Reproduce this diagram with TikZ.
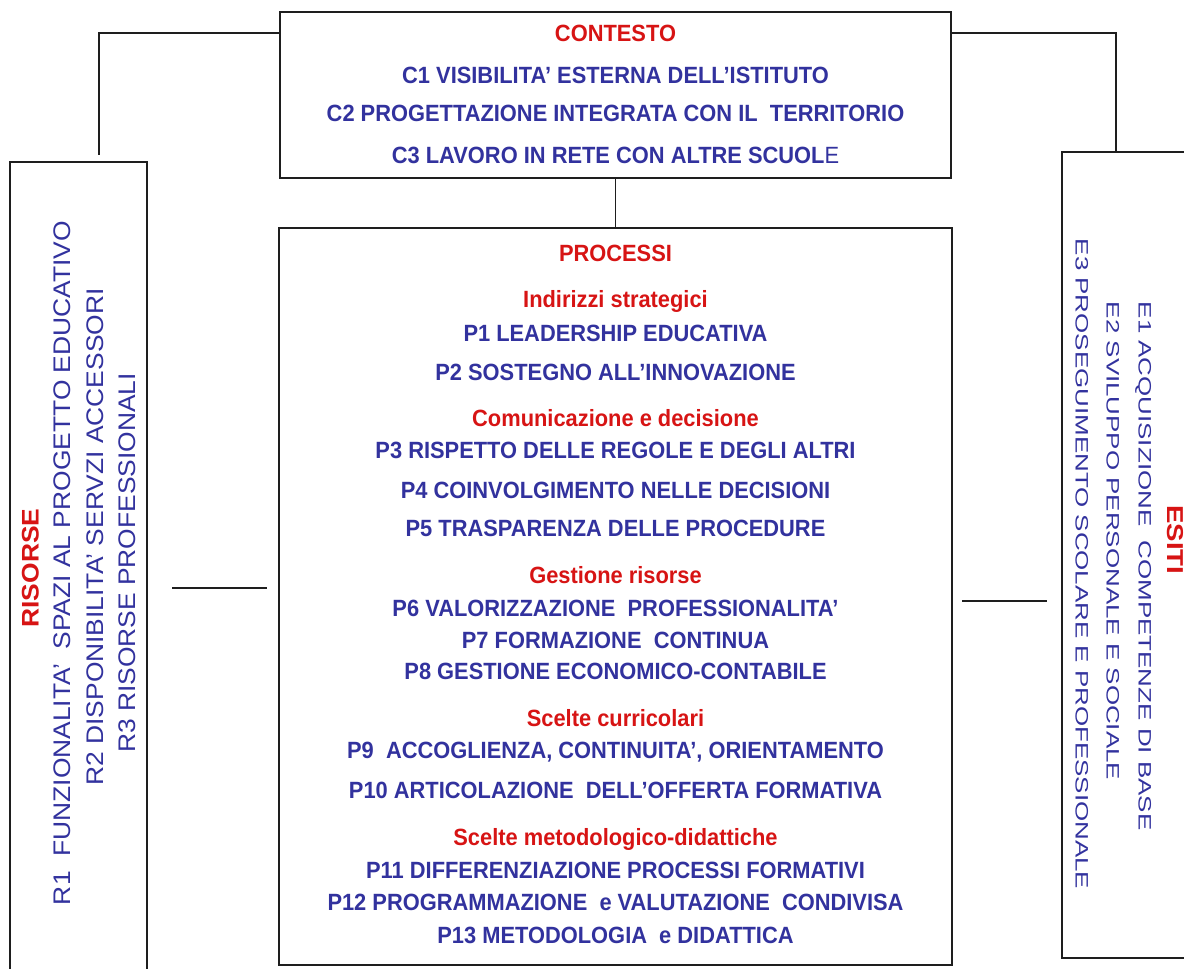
\documentclass[tikz,border=0pt]{standalone}
\usepackage{fontspec}
\setmainfont{Liberation Sans}
\newfontfamily\midfont[FakeStretch=0.93]{Liberation Sans}
\newfontfamily\leftfont[FakeStretch=1.1]{Liberation Sans}
\newfontfamily\rightfont[FakeStretch=1.44]{Liberation Sans}
\newfontfamily\esitifont[FakeStretch=1.2]{Liberation Sans}
\definecolor{tblue}{RGB}{50,50,158}
\definecolor{tred}{RGB}{215,20,20}
\definecolor{lineg}{RGB}{30,30,30}
\begin{document}
\begin{tikzpicture}[x=1pt,y=-1pt,
  box/.style={draw=lineg, line width=1.3pt, inner sep=0pt, outer sep=0pt, fill=white},
  conn/.style={draw=lineg, line width=1.3pt},
  ctext/.style={inner sep=0pt, font=\midfont\fontsize{23.5}{27}\selectfont\bfseries, text height=16.8pt, text depth=0pt, text=tblue},
  chead/.style={ctext, text=tred},
  ltext/.style={inner sep=0pt, rotate=90, font=\leftfont\fontsize{24}{28}\selectfont, text height=17.2pt, text depth=0pt, text=tblue},
  lhead/.style={ltext, font=\leftfont\fontsize{24}{28}\selectfont\bfseries, text=tred},
  rtext/.style={inner sep=0pt, rotate=-90, font=\rightfont\fontsize{18}{22}\selectfont, text height=12.9pt, text depth=0pt, text=tblue},
  rhead/.style={rtext, font=\esitifont\fontsize{23}{26}\selectfont\bfseries, text height=16.5pt, text=tred}
]
\useasboundingbox (0,0) rectangle (1184,969);
\fill[white] (0,0) rectangle (1184,969);
\clip (0,0) rectangle (1184,969);

% boxes
\node[box, minimum width=671pt, minimum height=166pt] (ctx) at (615.5,95) {};
\node[box, minimum width=673pt, minimum height=737pt] (proc) at (615.5,596.5) {};
\node[box, minimum width=137pt, minimum height=830pt] (res) at (78.5,577) {};
\node[box, minimum width=140pt, minimum height=806pt] (esi) at (1132,555) {};

% connectors
\coordinate (lc) at (99,155);
\coordinate (rc) at (1116,152);
\draw[conn] (ctx.west |- 0,33) -| (lc);
\draw[conn] (ctx.east |- 0,33) -| (rc);
\draw[conn] (ctx.south) -- (proc.north);
\coordinate (l1) at (172,588);
\coordinate (l2) at (267,588);
\coordinate (r1) at (962,601);
\coordinate (r2) at (1047,601);
\draw[conn] (l1) -- (l2);
\draw[conn] (r1) -- (r2);

% CONTESTO
\node[chead] (c0) at (615.5,33) {CONTESTO};
\node[ctext] (c1) at (615.5,75) {C1 VISIBILITA’ ESTERNA DELL’ISTITUTO};
\node[ctext] (c2) at (615.5,113) {C2 PROGETTAZIONE INTEGRATA CON IL~ TERRITORIO};
\node[ctext] (c3) at (615.5,155) {C3 LAVORO IN RETE CON ALTRE SCUOL{\mdseries E}};

% PROCESSI
\node[chead] (p0) at (615.5,253) {PROCESSI};
\node[chead] (h1) at (615.5,299) {Indirizzi strategici};
\node[ctext] (p1) at (615.5,333) {P1 LEADERSHIP EDUCATIVA};
\node[ctext] (p2) at (615.5,372) {P2 SOSTEGNO ALL’INNOVAZIONE};
\node[chead] (h2) at (615.5,418) {Comunicazione e decisione};
\node[ctext] (p3) at (615.5,450) {P3 RISPETTO DELLE REGOLE E DEGLI ALTRI};
\node[ctext] (p4) at (615.5,490) {P4 COINVOLGIMENTO NELLE DECISIONI};
\node[ctext] (p5) at (615.5,528) {P5 TRASPARENZA DELLE PROCEDURE};
\node[chead] (h3) at (615.5,575) {Gestione risorse};
\node[ctext] (p6) at (615.5,608) {P6 VALORIZZAZIONE~ PROFESSIONALITA’};
\node[ctext] (p7) at (615.5,640) {P7 FORMAZIONE~ CONTINUA};
\node[ctext] (p8) at (615.5,671) {P8 GESTIONE ECONOMICO-CONTABILE};
\node[chead] (h4) at (615.5,718) {Scelte curricolari};
\node[ctext] (p9) at (615.5,750) {P9~ ACCOGLIENZA, CONTINUITA’, ORIENTAMENTO};
\node[ctext] (p10) at (615.5,790) {P10 ARTICOLAZIONE~ DELL’OFFERTA FORMATIVA};
\node[chead] (h5) at (615.5,837) {Scelte metodologico-didattiche};
\node[ctext] (p11) at (615.5,870) {P11 DIFFERENZIAZIONE PROCESSI FORMATIVI};
\node[ctext] (p12) at (615.5,902) {P12 PROGRAMMAZIONE~ e VALUTAZIONE~ CONDIVISA};
\node[ctext] (p13) at (615.5,935) {P13 METODOLOGIA~ e DIDATTICA};

% RISORSE
\node[lhead] (r0) at (30,568) {RISORSE};
\node[ltext] (rr1) at (62,563) {R1~ FUNZIONALITA’~ SPAZI AL PROGETTO EDUCATIVO};
\node[ltext] (rr2) at (95,537) {R2 DISPONIBILITA’ SERVZI ACCESSORI};
\node[ltext] (rr3) at (127,563) {R3 RISORSE PROFESSIONALI};

% ESITI
\node[rhead] (e0) at (1176,540) {ESITI};
\node[rtext] (e1) at (1145,566) {E1 ACQUISIZIONE~ COMPETENZE DI BASE};
\node[rtext] (e2) at (1113,541) {E2 SVILUPPO PERSONALE E SOCIALE};
\node[rtext] (e3) at (1082,564) {E3 PROSEGUIMENTO SCOLARE E PROFESSIONALE};
\end{tikzpicture}
\end{document}
